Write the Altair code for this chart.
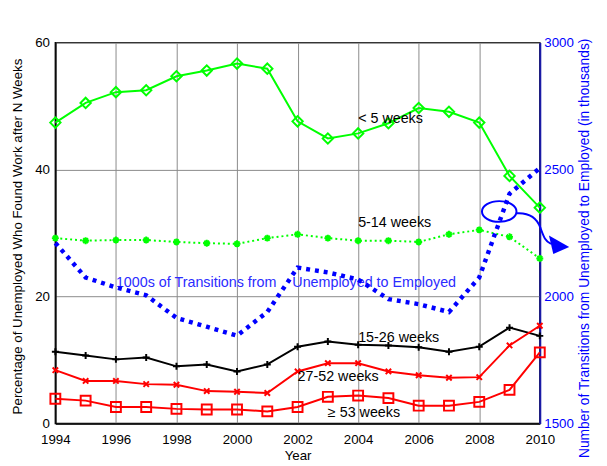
import altair as alt
import pandas as pd

years = list(range(1994, 2011))
under5 = [47.4, 50.5, 52.2, 52.5, 54.7, 55.6, 56.7, 55.9, 47.6, 44.9, 45.7, 47.3, 49.7, 49.1, 47.4, 39.0, 34.0]
w5_14 = [29.2, 28.8, 28.9, 28.9, 28.6, 28.4, 28.3, 29.2, 29.8, 29.2, 28.8, 28.8, 28.6, 29.8, 30.5, 29.4, 26.0]
w15_26 = [11.3, 10.7, 10.1, 10.4, 9.0, 9.3, 8.2, 9.3, 12.1, 12.9, 12.4, 12.3, 12.0, 11.3, 12.1, 15.1, 13.8]
w27_52 = [8.4, 6.7, 6.7, 6.2, 6.1, 5.1, 5.0, 4.8, 8.2, 9.5, 9.5, 8.2, 7.6, 7.2, 7.3, 12.3, 15.4]
w53 = [3.9, 3.6, 2.6, 2.6, 2.3, 2.2, 2.2, 1.9, 2.6, 4.2, 4.4, 4.0, 2.8, 2.8, 3.4, 5.3, 11.2]
transitions = [2211, 2075, 2036, 2005, 1916, 1881, 1846, 1939, 2114, 2095, 2067, 1990, 1970, 1939, 2075, 2405, 2506]

label_text = ["< 5 weeks", "5-14 weeks", "15-26 weeks", "27-52 weeks", "\u2265 53 weeks"]
label_year = [2004.0, 2004.0, 2004.0, 2002.0, 2003.0]
label_value = [47.9, 31.6, 13.5, 7.3, 1.7]

blue_text = ["1000s of Transitions from\u00a0\u00a0\u00a0\u00a0Unemployed to Employed"]
blue_text_year = [1996.0]
blue_text_value = [22.1]

# annotation: ellipse and curved arrow (in year / thousands coordinates)
ellipse_year = [2008.66]
ellipse_value = [2335]
arrow_year = [2010.09]
arrow_value = [2258]

FONT = "Liberation Sans"
BLUE = "#0000ff"
GREEN = "#00ff00"
RED = "#ff0000"


def frame(vals):
    return pd.DataFrame({"year": years, "v": vals})


xenc = alt.X(
    "year:Q",
    scale=alt.Scale(domain=[1994, 2010], nice=False, zero=False),
    axis=alt.Axis(
        values=list(range(1994, 2011, 2)), format="d", title="Year",
        grid=True, gridColor="#8a8a8a", gridWidth=1, ticks=False,
        labelPadding=9, labelFontSize=13.5, labelColor="black", labelFlush=False,
        titleFontSize=13.5, titleFontWeight="normal", titleColor="black",
        titleY=33, titleBaseline="middle",
        domainColor="black", domainWidth=1.5,
    ),
)

ysc = alt.Scale(domain=[0, 60], nice=False)
yenc = alt.Y(
    "v:Q", scale=ysc,
    axis=alt.Axis(
        values=[0, 20, 40, 60], title="Percentage of Unemployed Who Found Work after N Weeks",
        grid=True, gridColor="#8a8a8a", gridWidth=1, ticks=False,
        labelPadding=6, labelFontSize=13.5, labelColor="black", labelFlush=False,
        titleFontSize=13.5, titleFontWeight="normal", titleColor="black",
        titleX=-38, titleY=196, titleBaseline="middle", titleAlign="center",
        domainColor="black", domainWidth=1.5,
    ),
)

PLUS = "M-1,0L1,0M0,-1L0,1"
XMARK = "M-1,-1L1,1M-1,1L1,-1"
STAR = "M-1,0L1,0M0,-1L0,1M-0.7,-0.7L0.7,0.7M-0.7,0.7L0.7,-0.7"


def series(vals, color, shape, size, dash=None, sw=2):
    base = alt.Chart(frame(vals))
    line_kwargs = dict(color=color, strokeWidth=sw)
    if dash:
        line_kwargs["strokeDash"] = dash
    line = base.mark_line(**line_kwargs).encode(x=xenc, y=yenc)
    pts = base.mark_point(shape=shape, size=size, filled=False, color=color,
                          strokeWidth=2, opacity=1).encode(x=xenc, y=yenc)
    return line + pts


left = (
    series(under5, GREEN, "diamond", 110)
    + series(w5_14, GREEN, STAR, 50, dash=[2, 3])
    + series(w15_26, "black", PLUS, 50)
    + series(w27_52, RED, XMARK, 30)
    + series(w53, RED, "square", 100)
)

labels = alt.Chart(pd.DataFrame({"t": label_text, "year": label_year, "v": label_value})).mark_text(
    align="left", baseline="middle", fontSize=14.5, color="black", font=FONT
).encode(x=xenc, y=yenc, text="t:N")

blue_label = alt.Chart(pd.DataFrame({"t": blue_text, "year": blue_text_year, "v": blue_text_value})).mark_text(
    align="left", baseline="middle", fontSize=14.5, color="#2b2bff", font=FONT
).encode(x=xenc, y=yenc, text="t:N")

left_layer = alt.layer(left, labels, blue_label)

yR = alt.Y(
    "v:Q", scale=alt.Scale(domain=[1500, 3000], nice=False, zero=False),
    axis=alt.Axis(
        orient="right", values=[1500, 2000, 2500, 3000], format="d",
        title="Number of Transitions from Unemployed to Employed (in thousands)",
        grid=False, ticks=False, labelPadding=4, labelFontSize=13.5, labelColor=BLUE,
        labelFlush=False,
        titleFontSize=14, titleFontWeight="normal", titleColor=BLUE,
        titleAngle=270, titleX=45, titleY=208, titleBaseline="middle", titleAlign="center",
        domainColor="#1a1aa6", domainWidth=2,
    ),
)

trans_line = alt.Chart(frame(transitions)).mark_line(
    color=BLUE, strokeWidth=4.5, strokeDash=[4, 5], strokeCap="butt"
).encode(x=xenc, y=yR)

ellipse = alt.Chart(pd.DataFrame({"year": ellipse_year, "v": ellipse_value})).mark_point(
    shape="M-1,0A1,0.6,0,1,1,1,0A1,0.6,0,1,1,-1,0Z", size=1225, filled=False,
    color=BLUE, strokeWidth=2, opacity=1
).encode(x=xenc, y=yR)

arrow_curve = alt.Chart(pd.DataFrame({"year": arrow_year, "v": arrow_value})).mark_point(
    shape="M-1,-0.69C-0.45,-0.72,-0.2,-0.45,-0.08,-0.12S0.1,0.4,0.33,0.5",
    size=2704, filled=False, color=BLUE, strokeWidth=2, opacity=1
).encode(x=xenc, y=yR)

arrow_head = alt.Chart(pd.DataFrame({"year": arrow_year, "v": arrow_value})).mark_point(
    shape="M0.25,0.17L1.04,0.62L0.42,0.9Z",
    size=2704, filled=True, color=BLUE, opacity=1, strokeWidth=0
).encode(x=xenc, y=yR)

right_layer = alt.layer(trans_line, ellipse, arrow_curve, arrow_head)

chart = (
    alt.layer(left_layer, right_layer)
    .resolve_scale(y="independent")
    .properties(
        width=491, height=386,
        autosize=alt.AutoSizeParams(type="none"),
        padding={"left": 48, "top": 32, "right": 60, "bottom": 40},
    )
    .configure(font=FONT)
    .configure_view(stroke="black", strokeWidth=1.5)
)

chart.save("out.html", embed_options={"renderer": "svg", "actions": False})
